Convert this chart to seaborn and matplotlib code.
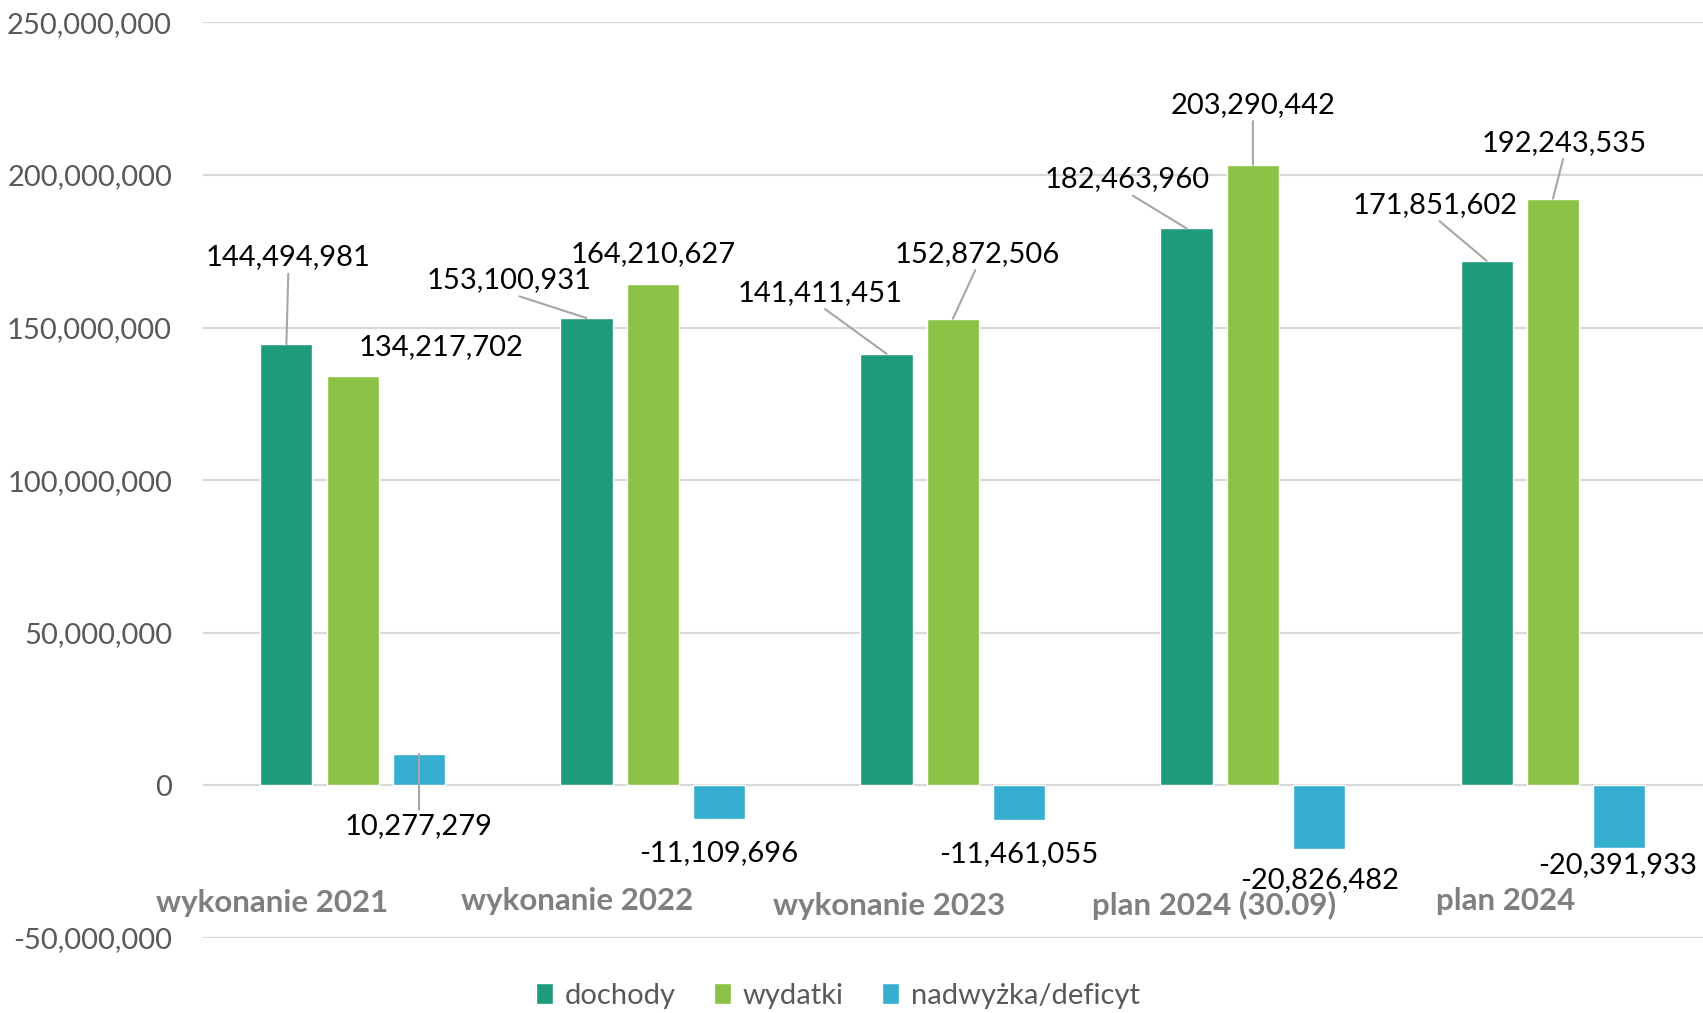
import matplotlib
matplotlib.use("Agg")
import matplotlib.pyplot as plt
import seaborn as sns
import pandas as pd
from matplotlib.ticker import FuncFormatter, MultipleLocator

# ---- data ----
categories = ["wykonanie 2021", "wykonanie 2022", "wykonanie 2023", "plan 2024 (30.09)", "plan 2024"]
series = ["dochody", "wydatki", "nadwyżka/deficyt"]
dochody = [144494981, 153100931, 141411451, 182463960, 171851602]
wydatki = [134217702, 164210627, 152872506, 203290442, 192243535]
saldo = [10277279, -11109696, -11461055, -20826482, -20391933]

# ---- styles / layout ----
colors = ["#1E9B7A", "#8BC145", "#36AECF"]
# label offsets (pixels) per series, per category, and whether a leader line is drawn
label_offsets = {
    "dochody": [(2, 87), (-77, 38), (-66, 61), (-59, 49), (-51, 56)],
    "wydatki": [(88, 29), (0, 30), (24, 65), (0, 60), (11, 56)],
    "nadwyżka/deficyt": [(0, -72), (0, -34), (0, -34), (0, -31), (-2, -17)],
}
leaders = {
    "dochody": [True, True, True, True, True],
    "wydatki": [False, False, True, True, True],
    "nadwyżka/deficyt": [True, False, False, False, False],
}
cat_label_dx = [-0.268, -0.251, -0.212, -0.129, -0.159]
cat_label_y = [-38.4e6, -38.0e6, -39.4e6, -39.4e6, -38.0e6]

sns.set_theme(style="white")
plt.rcParams["font.family"] = ["Lato", "DejaVu Sans"]

df = pd.DataFrame({
    "kategoria": categories * 3,
    "seria": [series[0]] * 5 + [series[1]] * 5 + [series[2]] * 5,
    "wartosc": dochody + wydatki + saldo,
})

fig = plt.figure(figsize=(17.03, 10.13), dpi=100)
ax = fig.add_axes([0.119, 0.074, 0.881, 0.904])

sns.barplot(data=df, x="kategoria", y="wartosc", hue="seria", order=categories,
            hue_order=series, palette=colors, saturation=1, width=0.663, gap=0.213,
            errorbar=None, ax=ax, zorder=3)

ax.set_xlim(-0.5, 4.5)
ax.set_ylim(-50e6, 250e6)
ax.yaxis.set_major_locator(MultipleLocator(50e6))
ax.yaxis.set_major_formatter(FuncFormatter(lambda v, p: f"{v:,.0f}"))
ax.grid(axis="y", color="#d9d9d9", lw=1.6)
ax.set_axisbelow(True)
for s in ax.spines.values():
    s.set_visible(False)
ax.set_xticks([])
ax.set_xlabel("")
ax.set_ylabel("")
ax.tick_params(axis="y", length=0, pad=22, labelsize=21, labelcolor="#595959")

# category labels
for i, cat in enumerate(categories):
    ax.text(i + cat_label_dx[i], cat_label_y[i], cat, ha="center", va="center",
            fontsize=22.5, fontweight="bold", color="#7f7f7f")

# data labels
values = {"dochody": dochody, "wydatki": wydatki, "nadwyżka/deficyt": saldo}
for container, name in zip(ax.containers, series):
    for j, bar in enumerate(container):
        xc = bar.get_x() + bar.get_width() / 2
        value = values[name][j]
        dx, dy = label_offsets[name][j]
        below = dy < 0
        arrow = None
        if leaders[name][j]:
            arrow = dict(arrowstyle="-", color="#a6a6a6", lw=1.5, shrinkA=0, shrinkB=0,
                         relpos=(0.5, 1.0) if below else (0.5, 0.0))
        ax.annotate(f"{value:,.0f}", xy=(xc, value), xytext=(dx, dy),
                    textcoords="offset pixels", ha="center", va="center",
                    fontsize=21, color="black", arrowprops=arrow, zorder=5)

handles, labels = ax.get_legend_handles_labels()
if ax.get_legend() is not None:
    ax.get_legend().remove()
fig.legend(handles, labels, loc="center", bbox_to_anchor=(0.492, 0.017), ncol=3,
           frameon=False, fontsize=21, handlelength=0.6, handleheight=0.7,
           handletextpad=0.4, columnspacing=1.3, labelcolor="#595959")

fig.savefig("out.png", dpi=100)
